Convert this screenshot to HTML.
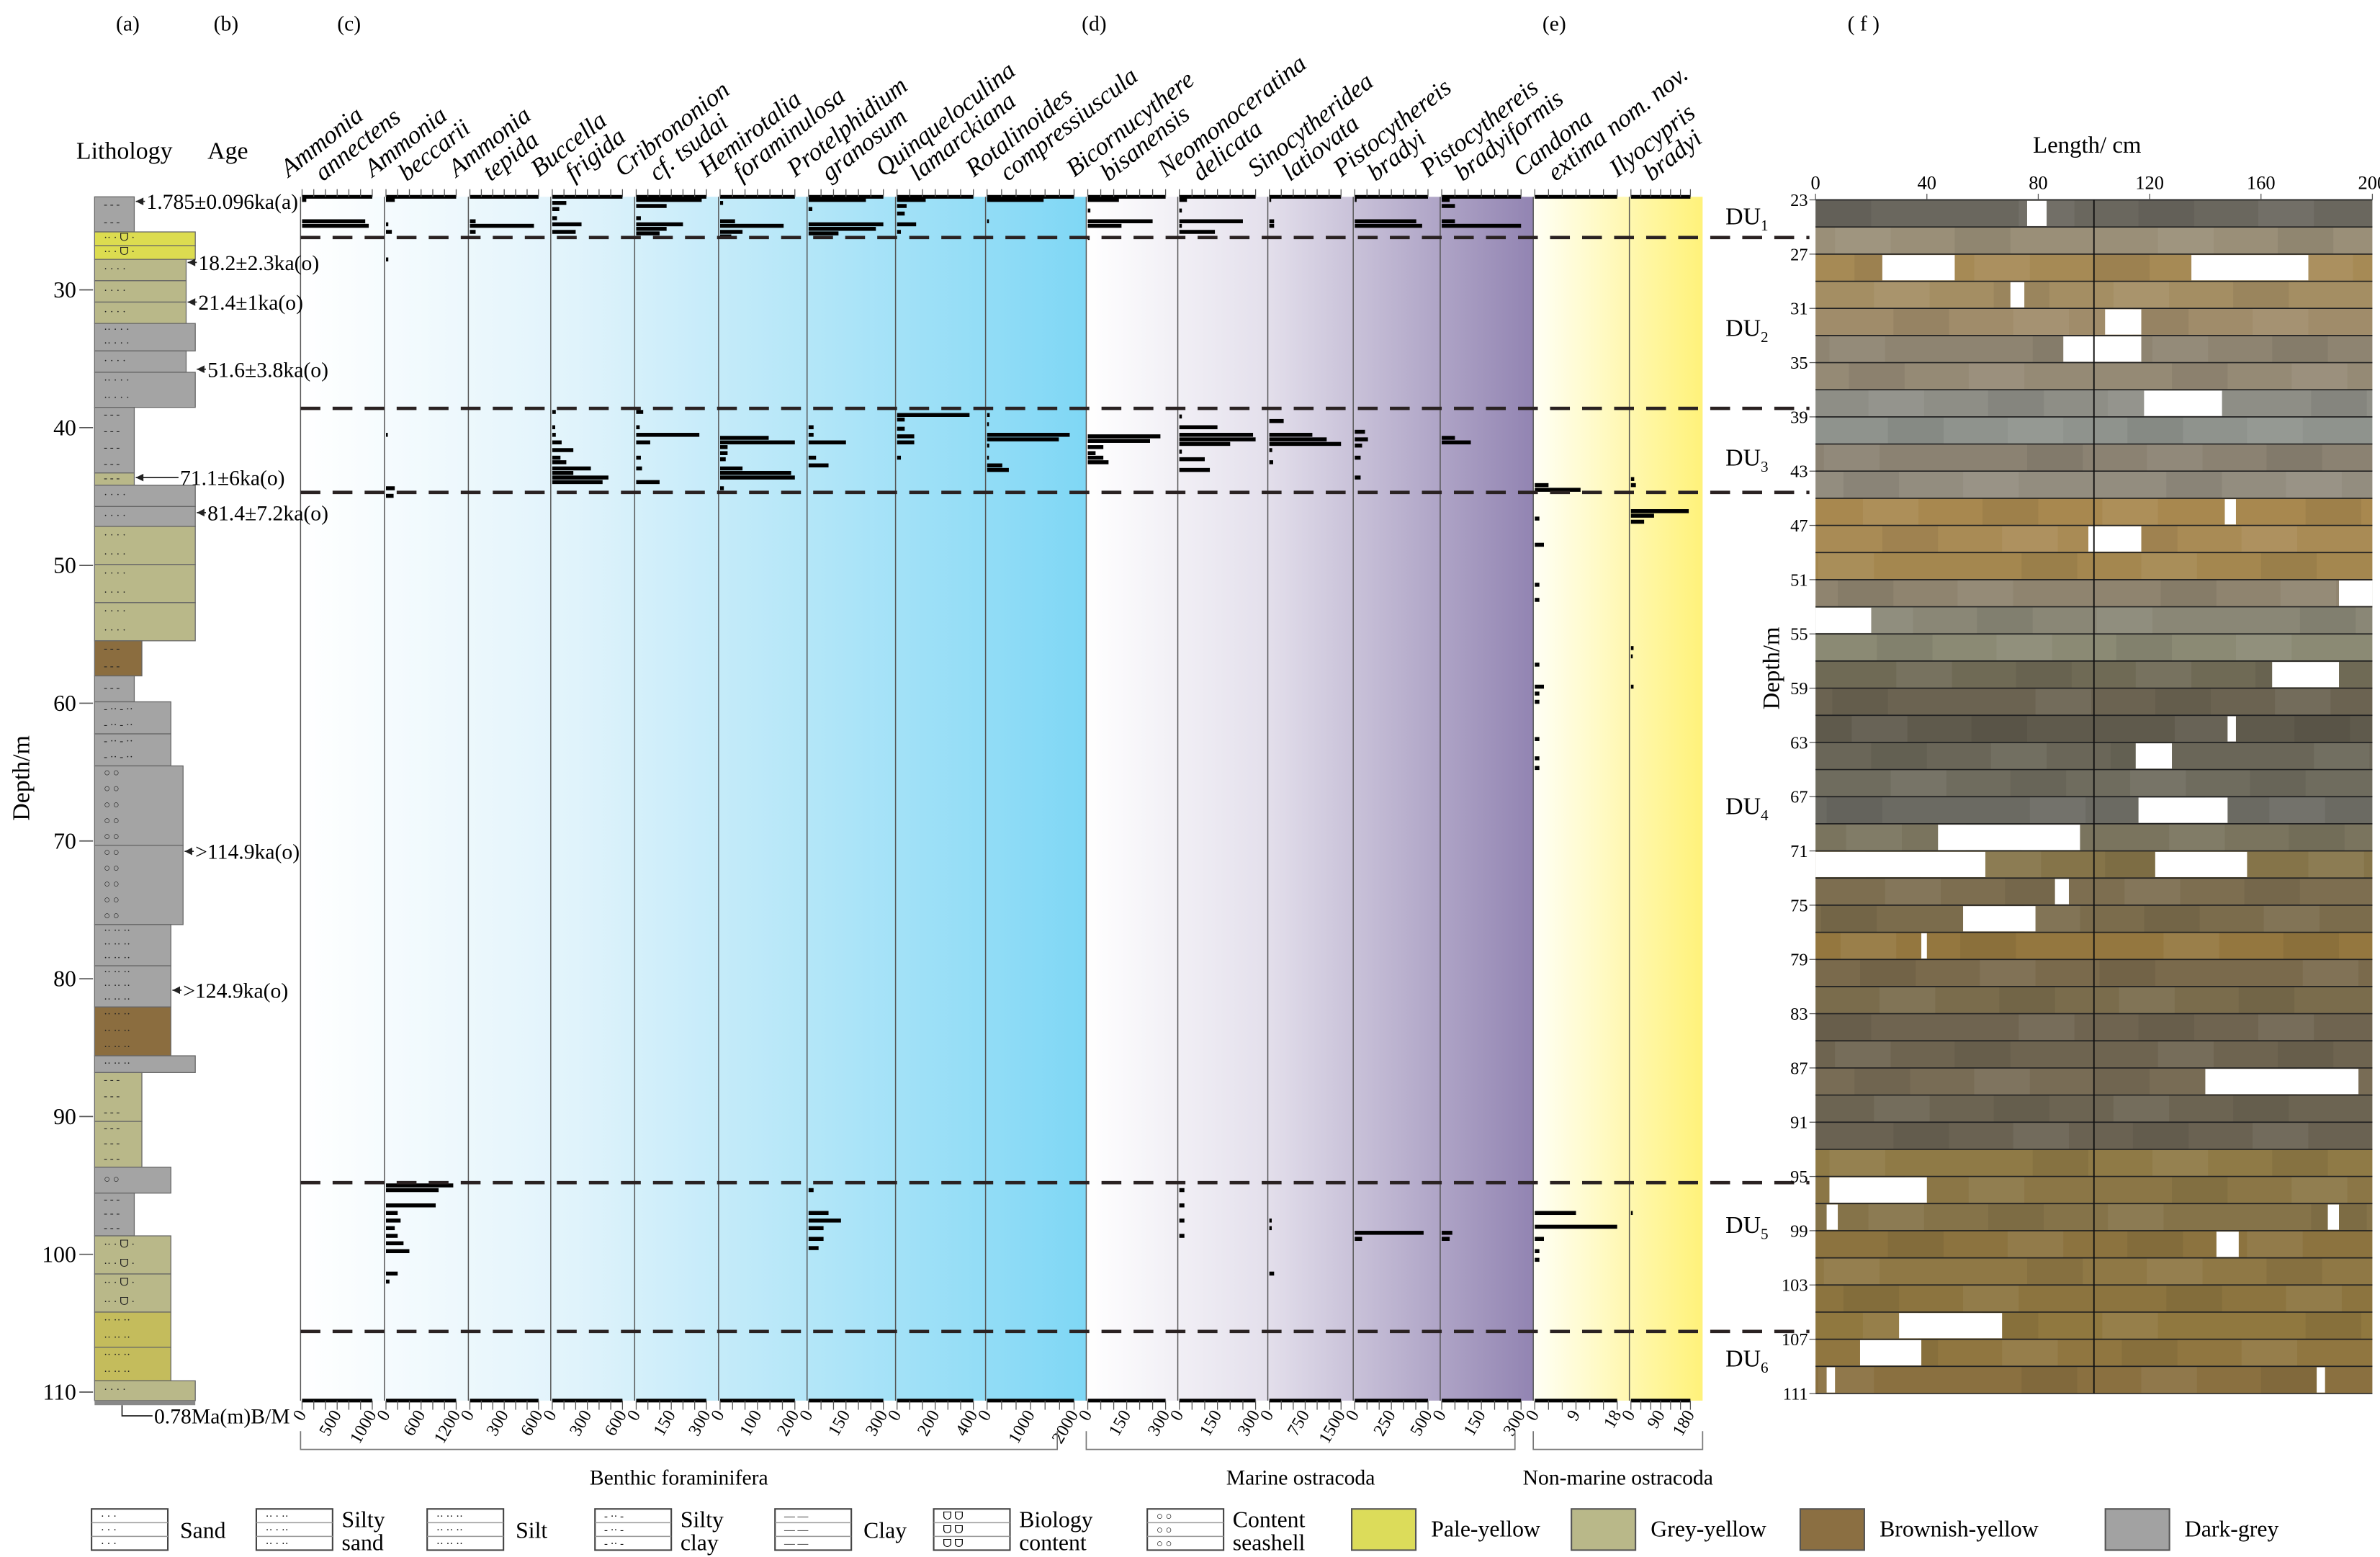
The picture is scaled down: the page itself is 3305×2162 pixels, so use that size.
<!DOCTYPE html>
<html><head><meta charset="utf-8"><style>
html,body{margin:0;padding:0;background:#fff;}
svg{display:block;font-family:"Liberation Serif",serif;}
svg text{font-family:"Liberation Serif",serif;}
</style></head><body>
<svg id="fig" xmlns="http://www.w3.org/2000/svg" width="3305" height="2162" viewBox="0 0 1560 1020.5" preserveAspectRatio="none" font-family="Liberation Serif, serif">
<defs>
<linearGradient id="gBen" gradientUnits="userSpaceOnUse" x1="197" y1="0" x2="712" y2="0"><stop offset="0" stop-color="#ffffff"/><stop offset="0.35" stop-color="#e0f3fb"/><stop offset="1" stop-color="#7fd7f5"/></linearGradient>
<linearGradient id="gMar" gradientUnits="userSpaceOnUse" x1="712" y1="0" x2="1005" y2="0"><stop offset="0" stop-color="#ffffff"/><stop offset="0.4" stop-color="#e4e0ec"/><stop offset="1" stop-color="#9284b2"/></linearGradient>
<linearGradient id="gNon" gradientUnits="userSpaceOnUse" x1="1005" y1="0" x2="1116" y2="0"><stop offset="0" stop-color="#fffff5"/><stop offset="1" stop-color="#fff27a"/></linearGradient>
</defs>
<g font-size="14">
<text x="76" y="20">(a)</text>
<text x="140" y="20">(b)</text>
<text x="221" y="20">(c)</text>
<text x="709" y="20">(d)</text>
<text x="1011" y="20">(e)</text>
<text x="1211" y="20">( f )</text>
<text x="50" y="104" font-size="16">Lithology</text>
<text x="136" y="104" font-size="16">Age</text>
<text transform="translate(19,510) rotate(-90)" text-anchor="middle" font-size="16">Depth/m</text>
</g>
<g id="lith"></g>
<g id="panels"></g>
<g id="ages"></g>
<g id="photo"></g>
<g id="legend"></g>
</svg>
<script>
// ---- depth scales ----
const depthTicks = [30,40,50,60,70,80,90,100,110];
// ---- species data (depth m, count) ----
const s1Depth=[23.47,25.02,25.35]; const s1Val=[60,900,950];
const s2Depth=[23.47,25.24,25.79,27.79,40.52,44.4,44.95,95.0,95.34,96.45,97.0,97.55,98.1,98.66,99.2,99.77,101.4,101.98];
const s2Val=[150,40,100,40,30,150,130,1150,900,850,200,250,150,200,300,400,200,60];
const s3Depth=[25.02,25.35,25.79]; const s3Val=[50,560,50];
const s4Depth=[23.69,24.13,24.8,25.24,25.79,38.86,39.97,40.52,41.07,41.63,42.18,42.51,42.96,43.29,43.62,43.95];
const s4Val=[120,60,40,250,200,30,25,30,80,180,70,120,330,180,480,430];
const s5Depth=[23.47,23.91,24.8,25.24,25.57,25.9,38.86,39.97,40.52,41.07,42.18,42.96,43.95];
const s5Val=[280,130,20,200,130,100,30,15,270,60,20,25,100];
const s6Depth=[23.69,25.02,25.35,25.79,26.12,40.74,41.07,41.41,41.85,42.29,42.96,43.29,43.62,44.4];
const s6Val=[8,40,170,60,30,130,200,20,20,15,60,190,200,10];
const s7Depth=[23.47,24.13,25.24,25.57,25.9,39.97,40.52,41.07,42.18,42.74,95.34,97.0,97.55,98.1,98.88,99.55];
const s7Val=[230,15,300,270,120,20,20,150,30,80,20,80,130,60,60,40];
const s8Depth=[23.47,23.91,24.46,25.24,25.79,39.08,39.41,40.08,40.63,41.07,42.18];
const s8Val=[150,50,40,100,20,380,40,40,90,90,20];
const s9Depth=[23.47,25.02,39.08,39.75,40.52,40.85,41.3,42.18,42.74,43.07];
const s9Val=[1300,20,60,40,1900,1650,50,20,350,500];
const s10Depth=[23.47,24.24,25.02,25.35,26.23,40.63,40.96,41.41,41.85,42.18,42.51];
const s10Val=[120,10,250,130,5,280,240,60,30,60,80];
const s11Depth=[23.47,24.24,25.02,25.35,25.79,39.19,39.97,40.52,40.85,41.18,41.74,42.29,43.07,95.34,96.45,97.55,98.66];
const s11Val=[30,10,250,10,140,10,150,290,300,200,10,100,120,20,20,20,20];
const s12Depth=[23.47,25.02,25.35,39.52,40.52,40.85,41.18,41.63,42.51,97.55,98.1,101.4];
const s12Val=[30,100,100,300,900,1200,1500,60,80,50,50,100];
const s13Depth=[23.47,25.02,25.35,40.3,40.85,41.3,42.18,43.62,98.44,98.88];
const s13Val=[10,420,460,70,90,50,40,40,470,50];
const s14Depth=[23.47,23.91,25.02,25.35,40.74,41.07,98.44,98.88];
const s14Val=[30,50,50,300,50,110,40,30];
const s15Depth=[44.17,44.51,46.6,48.5,51.4,52.5,57.2,58.8,59.3,59.9,62.6,64.0,64.7,97.0,98.0,98.88,99.77,100.4];
const s15Val=[3,10,1,2,1,1,1,2,1,1,1,1,1,9,18,2,1,1];
const s16Depth=[43.73,44.17,46.06,46.39,46.83,56.0,56.6,58.8,97.0];
const s16Val=[10,15,175,70,40,8,5,8,5];
// ---- axis tick labels ----
const tickSets=[["0","500","1000"],["0","600","1200"],["0","300","600"],["0","300","600"],["0","150","300"],["0","100","200"],["0","150","300"],["0","200","400"],["0","1000","2000"],["0","150","300"],["0","150","300"],["0","750","1500"],["0","250","500"],["0","150","300"],["0","9","18"],["0","90","180"]];
const speciesLine1=["Ammonia","Ammonia","Ammonia","Buccella","Cribrononion","Hemirotalia","Protelphidium","Quinqueloculina","Rotalinoides","Bicornucythere","Neomonoceratina","Sinocytheridea","Pistocythereis","Pistocythereis","Candona","Ilyocypris"];
const speciesLine2=["annectens","beccarii","tepida","frigida","cf. tsudai","foraminulosa","granosum","lamarckiana","compressiuscula","bisanensis","delicata","latiovata","bradyi","bradyiformis","extima nom. nov.","bradyi"];
const duDepths=[26.2,38.6,44.7,94.8,105.6];
const duNames=["1","2","3","4","5","6"];
const duLabelDepth=[24.7,32.8,42.2,67.5,97.9,107.6];
const photoTicks=[0,40,80,120,160,200];

const NS="http://www.w3.org/2000/svg";
function mk(tag,attrs,parent){const e=document.createElementNS(NS,tag);for(const k in attrs)e.setAttribute(k,attrs[k]);parent.appendChild(e);return e;}
const yD=d=>190+(d-30)*9.03;
const colX=[197,252,307,361,416,471,529,587,646,712,772,831,887,944,1005,1068,1116];
const depths=[s1Depth,s2Depth,s3Depth,s4Depth,s5Depth,s6Depth,s7Depth,s8Depth,s9Depth,s10Depth,s11Depth,s12Depth,s13Depth,s14Depth,s15Depth,s16Depth];
const vals=[s1Val,s2Val,s3Val,s4Val,s5Val,s6Val,s7Val,s8Val,s9Val,s10Val,s11Val,s12Val,s13Val,s14Val,s15Val,s16Val];

// ---- depth axis ----
const lith=document.getElementById('lith');
depthTicks.forEach(d=>{
  const t=mk('text',{x:50,y:yD(d)+5,'text-anchor':'end','font-size':15},lith);t.textContent=d;
  
  
  mk('line',{x1:52,x2:61,y1:yD(d),y2:yD(d),stroke:'#555','stroke-width':0.8},lith);
});
// ---- lithology layers ----
const G='#a4a4a4',GY='#b9b889',P='#dcdc50',B='#8b6d3f',O='#c4bc5c';
const layers=[[129,152,88,G,'clay'],[152,161,128,P,'bio'],[161,170,128,P,'bio'],[170,184,122,GY,'sand'],[184,198,122,GY,'sand'],[198,212,122,GY,'sand'],[212,230,128,G,'silty'],[230,244,122,G,'sand'],[244,267,128,G,'silty'],[267,310,88,G,'clay'],[310,318,88,GY,'clay'],[318,332,128,G,'sand'],[332,345,128,G,'sand'],[345,370,128,GY,'sand'],[370,395,128,GY,'sand'],[395,420,128,GY,'sand'],[420,443,93,B,'clay'],[443,460,88,G,'clay'],[460,481,112,G,'sclay'],[481,502,112,G,'sclay'],[502,554,120,G,'shell'],[554,606,120,G,'shell'],[606,633,112,G,'silt'],[633,660,112,G,'silt'],[660,692,112,B,'silt'],[692,703,128,G,'silt'],[703,735,93,GY,'clay'],[735,765,93,GY,'clay'],[765,782,112,G,'shell'],[782,810,88,G,'clay'],[810,835,112,GY,'bio'],[835,860,112,GY,'bio'],[860,883,112,O,'silt'],[883,905,112,O,'silt'],[905,918,128,GY,'sand']];
layers.forEach(L=>{
  const r=mk('rect',{x:62,y:L[0],width:L[2]-62,height:L[1]-L[0],fill:L[3],stroke:'#666','stroke-width':0.6},lith);
  
  
  const h=L[1]-L[0],n=Math.max(1,Math.floor(h/9));
  for(let i=0;i<n;i++){
    const yy=L[0]+(i+0.5)*h/n+1.5;
    const t=mk('text',{x:68,y:yy,'font-size':7,fill:'#222'},lith);
    const s=L[4];
    t.textContent = s==='clay'?'- - -': s==='sand'?'·  ·  ·  ·': s==='silty'?'··  ·  ·  ·': s==='silt'?'·· ·· ··': s==='sclay'?'- ·· -  ··': s==='shell'?'  ○    ○':'··  ·  ᗜ  ·';
  }
});
mk('rect',{x:62,y:918,width:66,height:3,fill:'#888'},lith);

// ---- panels ----
const pan=document.getElementById('panels');
mk('rect',{x:197,y:129,width:515,height:789,fill:'url(#gBen)'},pan);
mk('rect',{x:712,y:129,width:293,height:789,fill:'url(#gMar)'},pan);
mk('rect',{x:1005,y:129,width:111,height:789,fill:'url(#gNon)'},pan);
for(let i=0;i<16;i++){
  const L=colX[i],R=colX[i+1],W=R-L-9;
  const maxV=parseFloat(tickSets[i][2]);
  const xs=v=>L+1+v/maxV*W;
  const g=mk('g',{},pan);
  
  
  mk('line',{x1:L,x2:L,y1:129,y2:918,stroke:'#555','stroke-width':0.7},g);
  [129,918].forEach((ya,k)=>{
    mk('line',{x1:L+1,x2:xs(maxV),y1:ya,y2:ya,stroke:'#000','stroke-width':2.4},g);
    for(let j=0;j<=6;j++){const xx=xs(maxV*j/6);mk('line',{x1:xx,x2:xx,y1:ya,y2:k?ya+6:ya-5,stroke:'#555','stroke-width':0.6},g);}
  });
  tickSets[i].forEach((lab,j)=>{
    const xx=xs(maxV*j/2);
    const t=mk('text',{transform:`translate(${xx+3},${927}) rotate(-60)`,'text-anchor':'end','font-size':11.5},g);
    t.textContent=lab;
    
    
  });
  const h=mk('g',{transform:`translate(${L+3},${127}) rotate(-38)`,'font-style':'italic','font-size':16.5},g);
  
  
  const t1=mk('text',{x:-2,y:-15},h);t1.textContent=speciesLine1[i];
  const t2=mk('text',{x:14,y:1},h);t2.textContent=speciesLine2[i];
  depths[i].forEach((d,j)=>{
    const b=mk('rect',{x:L+1,y:yD(d)-1.3,width:Math.max(1.2,xs(vals[i][j])-L-1),height:2.6,fill:'#000'},g);
    
    
  });
}
[[197,693,'Benthic foraminifera'],[712,993,'Marine ostracoda'],[1005,1116,'Non-marine ostracoda']].forEach(b=>{
  mk('path',{d:`M${b[0]},938 V950 H${b[1]} V938`,fill:'none',stroke:'#777','stroke-width':0.8},pan);
  const t=mk('text',{x:(b[0]+b[1])/2,y:973,'text-anchor':'middle','font-size':14},pan);t.textContent=b[2];
  
  
});
duDepths.forEach(d=>{
  const l=mk('line',{x1:197,x2:1186,y1:yD(d),y2:yD(d),stroke:'#2a2222','stroke-width':2.2,'stroke-dasharray':'13 8'},pan);
  
  
});
duNames.forEach((n,i)=>{
  const t=mk('text',{x:1131,y:yD(duLabelDepth[i])+5,'font-size':16},pan);
  t.textContent='DU';
  const s=mk('tspan',{'font-size':10,dy:4},t);s.textContent=n;
  
  
});

// ---- ages (drawn over panels) ----
const ages=document.getElementById('ages');
const ageList=[[132,88,"1.785±0.096ka(a)"],[172,122,"18.2±2.3ka(o)"],[198,122,"21.4±1ka(o)"],[242,128,"51.6±3.8ka(o)"],[313,88,"71.1±6ka(o)"],[336,128,"81.4±7.2ka(o)"],[558,120,">114.9ka(o)"],[649,112,">124.9ka(o)"]];
ageList.forEach(a=>{
  const len=a[2].startsWith('71')?28:6;
  mk('line',{x1:a[1]+1,x2:a[1]+1+len,y1:a[0],y2:a[0],stroke:'#222','stroke-width':0.8},ages);
  mk('path',{d:`M${a[1]+1},${a[0]} l5,-2.5 v5 z`,fill:'#222'},ages);
  const t=mk('text',{x:a[1]+2+len,y:a[0]+5,'font-size':14},ages);t.textContent=a[2];
  
  
});
mk('path',{d:'M80,921 v7 h20',fill:'none',stroke:'#222','stroke-width':0.8},ages);
{const t=mk('text',{x:101,y:933,'font-size':14},ages);t.textContent='0.78Ma(m)B/M';

}

// ---- photo panel ----
const ph=document.getElementById('photo');
const pY=d=>131+(d-23)*8.89, pX=c=>1190+c*1.825;
const rowColors=["#6a675e","#9a8f78","#a68a55","#a48e63","#a08c6a","#8e8471","#958a75","#8e8e86","#8f938d","#8b8272","#938d7f","#a8884f","#a98b55","#a4874f","#8f846f","#8a8776","#8b8a74","#6f6a55","#6b6351","#5f5a4c","#6a6658","#6f6c5e","#6b6a62","#7a745e","#857449","#7d6e50","#7b6c4c","#94773f","#7a6a4c","#7a6c4c","#6f6450","#6e6450","#786c55","#6c6452","#6a6252","#8f7a46","#8b7646","#857349","#8c733f","#8f7845","#8c743f","#90783f","#907640","#8a7040"];
const gapRow=[27,27,29,31,33,37,45,47,51,53,57,61,63,67,69,71,71,73,75,77,87,95,97,97,99,105,107,109,109,23];
const gapFrom=[24,135,70,104,89,118,147,98,188,0,164,148,115,116,44,0,122,86,53,38,140,5,4,184,144,30,16,4,180,76];
const gapTo=[50,177,75,117,117,146,151,117,200,20,188,151,128,148,95,61,155,91,79,40,195,40,8,188,152,67,38,7,183,83];
rowColors.forEach((c,i)=>{
  const d=23+2*i;
  const r=mk('rect',{x:1190,y:pY(d),width:365,height:pY(d+2)-pY(d),fill:c},ph);
  
  
  for(let k=0;k<4;k++){mk('rect',{x:pX(k*50+((i*37+k*23)%30)),y:pY(d),width:pX(20)-1190,height:pY(d+2)-pY(d),fill:(k+i)%2?'#ffffff':'#000000',opacity:0.06},ph);}
  mk('line',{x1:1190,x2:1555,y1:pY(d),y2:pY(d),stroke:'#222','stroke-width':0.8},ph);
});
gapRow.forEach((d,i)=>{
  const r=mk('rect',{x:pX(gapFrom[i]),y:pY(d)+0.6,width:pX(gapTo[i])-pX(gapFrom[i]),height:pY(d+2)-pY(d)-1.2,fill:'#fff'},ph);
  
  
});
mk('line',{x1:1190,x2:1555,y1:pY(111),y2:pY(111),stroke:'#222','stroke-width':0.8},ph);
mk('line',{x1:pX(100),x2:pX(100),y1:pY(23),y2:pY(111),stroke:'#111','stroke-width':0.9},ph);
photoTicks.forEach(c=>{
  const t=mk('text',{x:pX(c),y:124,'text-anchor':'middle','font-size':12.5},ph);t.textContent=c;
  
  
  mk('line',{x1:pX(c),x2:pX(c),y1:127,y2:131,stroke:'#555','stroke-width':0.6},ph);
});
{const t=mk('text',{x:1368,y:100,'text-anchor':'middle','font-size':15.5},ph);t.textContent='Length/ cm';

}
for(let d=23;d<=111;d+=4){
  const t=mk('text',{x:1185,y:pY(d)+4,'text-anchor':'end','font-size':11.5},ph);t.textContent=d;
  
  
  mk('line',{x1:1186,x2:1190,y1:pY(d),y2:pY(d),stroke:'#555','stroke-width':0.6},ph);
}
{const t=mk('text',{transform:'translate(1166,438) rotate(-90)','text-anchor':'middle','font-size':15.5},ph);t.textContent='Depth/m';

}

// ---- legend ----
const lg=document.getElementById('legend');
const pats=[[60,'Sand','','·   ·   ·'],[168,'Silty','sand','··  ·  ··'],[280,'Silt','','·· ·· ··'],[390,'Silty','clay','- ·· -'],[508,'Clay','','—   —'],[612,'Biology','content','ᗜ    ᗜ'],[752,'Content','seashell','○    ○']];
pats.forEach(p=>{
  const g=mk('g',{},lg);
  
  
  mk('rect',{x:p[0],y:989,width:50,height:27,fill:'#fff',stroke:'#444','stroke-width':1},g);
  mk('line',{x1:p[0],x2:p[0]+50,y1:998,y2:998,stroke:'#999','stroke-width':0.7},g);
  mk('line',{x1:p[0],x2:p[0]+50,y1:1007,y2:1007,stroke:'#999','stroke-width':0.7},g);
  [996,1005,1014].forEach(yy=>{const t=mk('text',{x:p[0]+6,y:yy,'font-size':7},g);t.textContent=p[3];});
  if(p[2]){const a=mk('text',{x:p[0]+56,y:1001,'font-size':15},g);a.textContent=p[1];const b=mk('text',{x:p[0]+56,y:1016,'font-size':15},g);b.textContent=p[2];}
  else {const a=mk('text',{x:p[0]+58,y:1008,'font-size':15},g);a.textContent=p[1];}
});
[[886,'#dcdc5a','Pale-yellow'],[1030,'#b9b889','Grey-yellow'],[1180,'#8b6f42','Brownish-yellow'],[1380,'#a2a2a2','Dark-grey']].forEach(c=>{
  const g=mk('g',{},lg);
  
  
  mk('rect',{x:c[0],y:989,width:42,height:27,fill:c[1],stroke:'#555','stroke-width':1},g);
  const t=mk('text',{x:c[0]+52,y:1007,'font-size':15},g);t.textContent=c[2];
});
</script>
</body></html>
